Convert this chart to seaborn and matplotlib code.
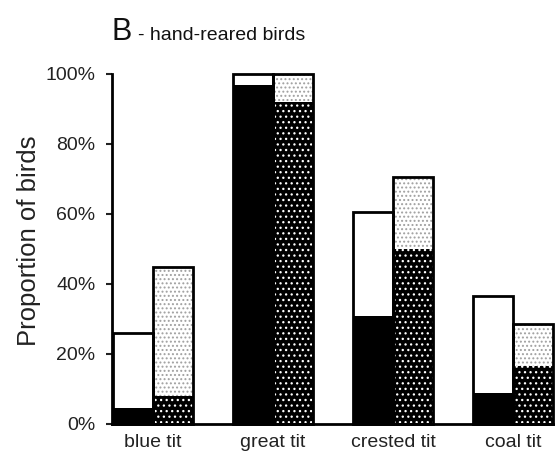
import matplotlib
matplotlib.use("Agg")
import matplotlib.pyplot as plt
import seaborn as sns
import pandas as pd

species = ["blue tit", "great tit", "crested tit", "coal tit"]
groups = ["group 1", "group 2"]
total_g1 = [26, 100, 60.5, 36.5]
black_g1 = [4.5, 97, 31, 9]
total_g2 = [45, 100, 70.5, 28.5]
black_g2 = [8, 92, 50, 16.5]
yticks = [0, 20, 40, 60, 80, 100]
ytick_labels = ["0%", "20%", "40%", "60%", "80%", "100%"]

sns.set_style("white")
plt.rcParams["font.family"] = ["Liberation Sans", "DejaVu Sans"]
plt.rcParams["hatch.linewidth"] = 0.9

df_total = pd.DataFrame({
    "species": species * 2,
    "group": [groups[0]] * 4 + [groups[1]] * 4,
    "value": total_g1 + total_g2,
})
df_black = pd.DataFrame({
    "species": species * 2,
    "group": [groups[0]] * 4 + [groups[1]] * 4,
    "value": black_g1 + black_g2,
})

fig = plt.figure(figsize=(5.55, 4.57), dpi=100)
ax = fig.add_axes([112 / 555, 1 - 424 / 457, 1 - 112 / 555, (424 - 74) / 457])

# totals (upper parts)
sns.barplot(data=df_total, x="species", y="value", hue="group", order=species,
            hue_order=groups, palette=["white", "white"], saturation=1,
            width=0.667, legend=False, linewidth=0, ax=ax, errorbar=None)
n0 = len(ax.containers)
# lower black parts
sns.barplot(data=df_black, x="species", y="value", hue="group", order=species,
            hue_order=groups, palette=["black", "black"], saturation=1,
            width=0.667, legend=False, linewidth=0, ax=ax, errorbar=None)
n1 = len(ax.containers)
# outlines
sns.barplot(data=df_total, x="species", y="value", hue="group", order=species,
            hue_order=groups, palette=["black", "black"], saturation=1,
            width=0.667, legend=False, linewidth=2.0, fill=False, ax=ax,
            errorbar=None)

cont = ax.containers
for p in cont[1]:
    p.set_facecolor("white")
    p.set_edgecolor("#a0a0a0")
    p.set_linewidth(0)
    p.set_hatch("....")
for p in cont[n0 + 1]:
    p.set_facecolor("black")
    p.set_edgecolor("white")
    p.set_linewidth(0)
    p.set_hatch("...")
for p in cont[n1]:
    p.set_edgecolor("black")
for p in cont[n1 + 1]:
    p.set_edgecolor("black")
for p in ax.patches:
    p.set_clip_on(False)

ax.set_xlim(-0.342, 3.35)
ax.set_ylim(0, 100)
ax.set_yticks(yticks)
ax.set_yticklabels(ytick_labels, fontsize=14)
ax.set_xticks(range(len(species)))
ax.set_xticklabels(species, fontsize=14)
ax.tick_params(axis="y", direction="out", length=4, width=1.5, pad=8,
               left=True, colors="#222222")
ax.tick_params(axis="x", length=0, pad=7, colors="#222222")
ax.set_xlabel("")
ax.set_ylabel("Proportion of birds", fontsize=18.5, labelpad=3, y=0.525,
              color="#222222")
for s in ["top", "right"]:
    ax.spines[s].set_visible(False)
for s in ["left", "bottom"]:
    ax.spines[s].set_linewidth(2)
    ax.spines[s].set_color("black")

fig.text(112 / 555, 1 - 40 / 457, "B", fontsize=22, color="#111111",
         ha="left", va="baseline")
fig.text(138 / 555, 1 - 40 / 457, "- hand-reared birds", fontsize=14,
         color="#111111", ha="left", va="baseline")

fig.savefig("out.png", dpi=100)
